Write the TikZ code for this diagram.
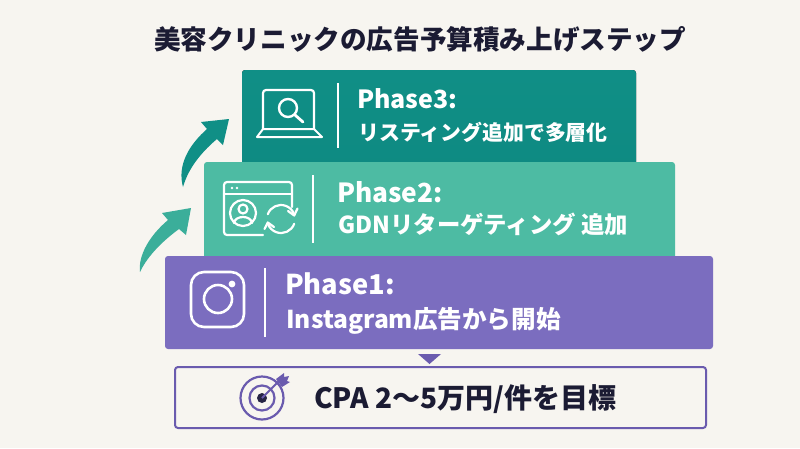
\documentclass[tikz,border=0pt]{standalone}
\usepackage{fontspec}
\setmainfont{Noto Sans CJK JP}
\usetikzlibrary{calc}
\definecolor{bgc}{HTML}{F7F5F0}
\definecolor{pA}{HTML}{7B6DBF}
\definecolor{pB}{HTML}{4DBBA3}
\definecolor{pC}{HTML}{108F86}
\definecolor{pCd}{HTML}{0E8A82}
\definecolor{inkc}{HTML}{1B1B33}
\definecolor{edgec}{HTML}{6A5BAE}
\tikzset{
  phasebox/.style={rounded corners=3pt},
  txt/.style={text=white,font=\bfseries,anchor=base west,inner sep=0pt},
  divider/.style={white,line width=1.4pt},
  icon/.style={white,line width=2.2pt,line cap=round,line join=round},
  targetline/.style={edgec,line width=2pt},
}
\begin{document}
\begin{tikzpicture}[x=1pt,y=-1pt]
\useasboundingbox (0,0) rectangle (800,448);
\fill[bgc] (0,0) rectangle (800,448);
\node[anchor=center,inner sep=0pt,text=inkc,font=\bfseries\fontsize{26.6}{30}\selectfont] (title) at (420,39) {美容クリニックの広告予算積み上げステップ};
% arrows
\fill[pB!70!pC] (140,272) .. controls (138,256) and (149,236) .. (168,220) -- (162,213) -- (191,208) -- (186,235) -- (179,229) .. controls (164,240) and (148,255) .. (140,272) -- cycle;
\fill[pC] (183,187) .. controls (177,165) and (189,145) .. (207,129) -- (201,122) -- (229,119) -- (223,145) -- (217,139) .. controls (204,150) and (189,166) .. (183,187) -- cycle;
% boxes
\fill[phasebox,top color=pC,bottom color=pCd] (242,70) rectangle (636,170) coordinate (c3);
\fill[phasebox,pB] (204,162) rectangle (675,262) coordinate (c2);
\fill[phasebox,pA] (165,256) rectangle (713,349) coordinate (c1);
\fill[edgec] (418,354) -- (441,354) -- (429.5,364) -- cycle;
\draw[targetline,rounded corners=3pt] (175,367) rectangle (706,428);
% dividers
\draw[divider] (338,83) -- (338,148);
\draw[divider] (313,175) -- (313,243);
\draw[divider] (265,268) -- (265,337);
% text
\node[txt,font=\bfseries\fontsize{25}{26}\selectfont] (p3a) at (357,108) {Phase3:};
\node[txt,font=\bfseries\fontsize{20.9}{26}\selectfont] (p3b) at (358,140) {リスティング追加で多層化};
\node[txt,font=\bfseries\fontsize{26.3}{26}\selectfont] (p2a) at (337,202) {Phase2:};
\node[txt,font=\bfseries\fontsize{23.4}{26}\selectfont] (p2b) at (338,233) {GDNリターゲティング 追加};
\node[txt,font=\bfseries\fontsize{27.3}{26}\selectfont] (p1a) at (285,294) {Phase1:};
\node[txt,font=\bfseries\fontsize{24.6}{26}\selectfont] (p1b) at (286,328) {Instagram広告から開始};
\node[txt,text=inkc,font=\bfseries\fontsize{28}{30}\selectfont] (cpa) at (314,408) {CPA 2〜5万円/件を目標};
% laptop
\draw[icon,rounded corners=3pt] (263,129) -- (263,90) -- (314,90) -- (314,129);
\draw[icon,line width=2pt] (263,129) -- (314,129) -- (322,137) -- (257,137) -- cycle;
\draw[icon,line width=2.4pt] (288,108) circle[radius=9];
\draw[icon,line width=2.8pt] (295,115) -- (303,122);
% browser
\draw[icon,rounded corners=3pt] (263,235) -- (224,235) -- (224,182) -- (292,182) -- (292,207);
\draw[icon] (224,194) -- (292,194);
\fill[white] (232,188) circle[radius=1.3] (237,188) circle[radius=1.3];
\draw[icon] (243,213) circle[radius=13];
\draw[icon] (243,209) circle[radius=4.5];
\draw[icon] (234,223) .. controls (235,215) and (251,215) .. (252,223);
\draw[icon] (267.8,214.2) arc[start angle=160,end angle=20,radius=14pt];
\draw[icon] (294.2,223.8) arc[start angle=-20,end angle=-160,radius=14pt];
\draw[icon] (288,211) -- (294.2,215.5) -- (297.5,208.5);
\draw[icon] (264.5,229) -- (267.8,222.5) -- (274,227);
% instagram
\draw[icon,line width=2.6pt,rounded corners=13pt] (191,272) rectangle (244,327);
\draw[icon,line width=2.6pt] (218,299) circle[radius=14];
\fill[white] (232,284) circle[radius=3.4];
% target
\draw[edgec,line width=2.2pt] (262,398) circle[radius=21.5];
\draw[edgec,line width=2.2pt] (262,398) circle[radius=12.5];
\fill[inkc!85!edgec] (262,398) circle[radius=5];
\draw[edgec,line width=2pt] (262,398) -- (280,380);
\fill[edgec] (276,379) -- (284,373) -- (284,377) -- (289,376) -- (287,381) -- (290,382) -- (282,387) -- cycle;
\end{tikzpicture}
\end{document}
